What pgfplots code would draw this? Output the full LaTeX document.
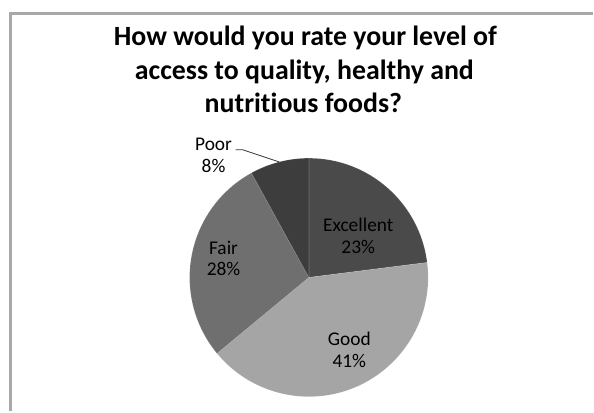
\documentclass[border=0pt]{standalone}
\usepackage{pgfplots}
\pgfplotsset{compat=1.18}
\usepackage{pgfplotstable}
\usepackage{fontspec}
\setmainfont{Carlito}[Ligatures=NoCommon]

\definecolor{cExcellent}{HTML}{4A4A4A}
\definecolor{cGood}{HTML}{A5A5A5}
\definecolor{cFair}{HTML}{6F6F6F}
\definecolor{cPoor}{HTML}{3D3D3D}
\definecolor{frame}{HTML}{A8A8A8}

% share of answers, in per cent
\pgfplotstableread{
label     value
Excellent 23
Good      41
Fair      28
Poor      8
}\piedata

\begin{document}
\begin{tikzpicture}
% values of the four slices
\pgfplotstablegetelem{0}{value}\of\piedata \pgfmathtruncatemacro\vA{\pgfplotsretval}
\pgfplotstablegetelem{1}{value}\of\piedata \pgfmathtruncatemacro\vB{\pgfplotsretval}
\pgfplotstablegetelem{2}{value}\of\piedata \pgfmathtruncatemacro\vC{\pgfplotsretval}
\pgfplotstablegetelem{3}{value}\of\piedata \pgfmathtruncatemacro\vD{\pgfplotsretval}
% slice boundaries, clockwise from twelve o'clock
\pgfmathsetmacro\aA{90}
\pgfmathsetmacro\aB{\aA-3.6*\vA}
\pgfmathsetmacro\aC{\aB-3.6*\vB}
\pgfmathsetmacro\aD{\aC-3.6*\vC}
\pgfmathsetmacro\aE{\aD-3.6*\vD}
\pgfmathsetmacro\mD{(\aD+\aE)/2}
\def\cx{309.5}
\def\cy{134}
\def\R{119.5}
\begin{axis}[
  x=1bp, y=1bp, scale only axis,
  xmin=0, xmax=594, ymin=0, ymax=412,
  hide axis, clip=false,
]
\path (axis cs:0,0) rectangle (axis cs:594,412);
% chart frame
\draw[frame, line width=2.5bp] (axis cs:10.5,0) -- (axis cs:10.5,398.5) -- (axis cs:594,398.5);

% title
\node[anchor=base, font=\bfseries\fontsize{28}{33}\selectfont] at (axis cs:306,366) {How would you rate your level of};
\node[anchor=base, font=\bfseries\fontsize{28}{33}\selectfont] at (axis cs:305,332) {access to quality, healthy and};
\node[anchor=base, font=\bfseries\fontsize{28}{33}\selectfont] at (axis cs:304,299) {nutritious foods?};

% slices
\filldraw[fill=cExcellent, draw=white, draw opacity=0.12, line width=0.8bp]
  (axis cs:\cx,\cy) -- ([shift={(\aA:\R bp)}]axis cs:\cx,\cy)
  arc[start angle=\aA, end angle=\aB, radius=\R bp] -- cycle;
\filldraw[fill=cGood, draw=white, draw opacity=0.12, line width=0.8bp]
  (axis cs:\cx,\cy) -- ([shift={(\aB:\R bp)}]axis cs:\cx,\cy)
  arc[start angle=\aB, end angle=\aC, radius=\R bp] -- cycle;
\filldraw[fill=cFair, draw=white, draw opacity=0.12, line width=0.8bp]
  (axis cs:\cx,\cy) -- ([shift={(\aC:\R bp)}]axis cs:\cx,\cy)
  arc[start angle=\aC, end angle=\aD, radius=\R bp] -- cycle;
\filldraw[fill=cPoor, draw=white, draw opacity=0.12, line width=0.8bp]
  (axis cs:\cx,\cy) -- ([shift={(\aD:\R bp)}]axis cs:\cx,\cy)
  arc[start angle=\aD, end angle=\aE, radius=\R bp] -- cycle;

% data labels
\tikzset{lbl/.style={align=center, font=\fontsize{19.5}{22}\selectfont, text=black, inner sep=0pt}}
\node[lbl] at (axis cs:359,176) {Excellent\\\vA\%};
\node[lbl] at (axis cs:350,61) {Good\\\vB\%};
\node[lbl] at (axis cs:224,153) {Fair\\\vC\%};
\node[lbl] at (axis cs:214,256) {Poor\\\vD\%};
\draw[black!80, line width=0.8bp] (axis cs:236,262) -- (axis cs:243,262)
  -- ([shift={(\mD:\R bp)}]axis cs:\cx,\cy);
\end{axis}
\end{tikzpicture}
\end{document}
